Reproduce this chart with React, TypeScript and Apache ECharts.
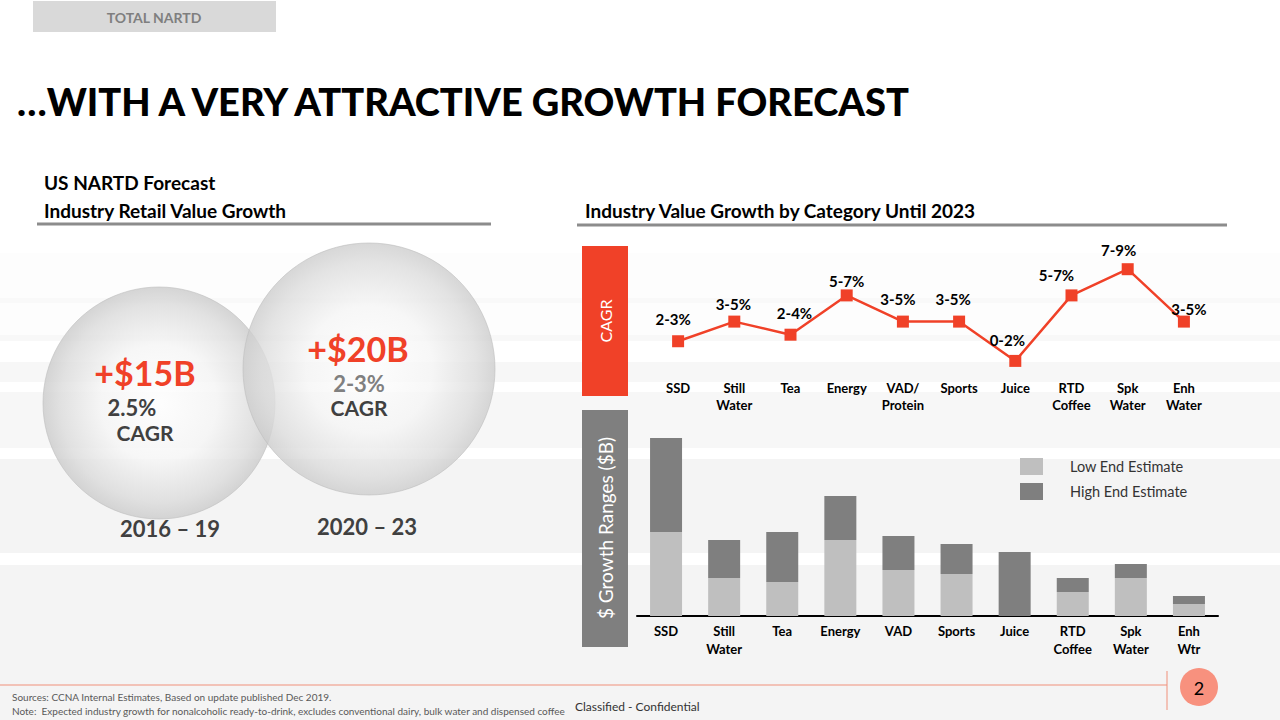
import React, { useEffect, useRef } from 'react';
import * as echarts from 'echarts';

const lineCategories = ['SSD', 'Still\nWater', 'Tea', 'Energy', 'VAD/\nProtein', 'Sports', 'Juice', 'RTD\nCoffee', 'Spk\nWater', 'Enh\nWater'];
const cagrRangeLabels = ['2-3%', '3-5%', '2-4%', '5-7%', '3-5%', '3-5%', '0-2%', '5-7%', '7-9%', '3-5%'];
const cagrValues = [2.5, 4, 3, 6, 4, 4, 1, 6, 8, 4];
const barCategories = ['SSD', 'Still\nWater', 'Tea', 'Energy', 'VAD', 'Sports', 'Juice', 'RTD\nCoffee', 'Spk\nWater', 'Enh\nWtr'];
const lowEndEstimate = [2.1, 0.95, 0.85, 1.9, 1.15, 1.05, 0, 0.6, 0.95, 0.3];
const highEndEstimate = [4.45, 1.9, 2.1, 3.0, 2.0, 1.8, 1.6, 0.95, 1.3, 0.5];
const legendNames = ['Low End Estimate', 'High End Estimate'];

const labelOffsets = [[-5, -22], [-1, -18], [4, -22], [0, -14], [-5, -23], [-6, -23], [-8, -21], [-15, -20], [-9, -19], [5, -13]];

const FONT = "Lato, 'Open Sans', sans-serif";
const RED = '#f04128';

function txt(text: string, x: number, y: number, size: number, color: string, weight = 'bold', align = 'left', extra: any = {}) {
  return {
    type: 'text', x, y, z: 20, ...extra,
    style: { text, fill: color, fontSize: size, fontWeight: weight, fontFamily: FONT, align, verticalAlign: 'middle' },
  };
}

function band(y1: number, y2: number, color: string) {
  return { type: 'rect', z: -10, shape: { x: 0, y: y1, width: 1280, height: y2 - y1 }, style: { fill: color } };
}

export default function App() {
  const ref = useRef<HTMLDivElement>(null);
  useEffect(() => {
    const chart = echarts.init(ref.current!, null, { renderer: 'svg' });
    const bubbleFill = (a: number) => new echarts.graphic.RadialGradient(0.5, 0.5, 0.5, [
      { offset: 0, color: `rgba(255,255,255,${a})` },
      { offset: 0.5, color: `rgba(245,245,245,${a})` },
      { offset: 0.85, color: `rgba(220,220,220,${a})` },
      { offset: 1, color: `rgba(204,204,204,${a})` },
    ]);
    const graphics: any[] = [
      band(253, 298, '#fdfdfd'),
      band(298, 303, '#f9f9f9'),
      band(303, 335, '#fdfdfd'),
      band(335, 341, '#f8f8f8'),
      band(362, 382, '#f7f7f7'),
      band(392, 448, '#f7f7f7'),
      band(459, 553, '#f4f4f4'),
      band(565, 720, '#f4f4f4'),
      { type: 'rect', z: 5, shape: { x: 33, y: 1, width: 243, height: 31 }, style: { fill: '#d9d9d9' } },
      txt('TOTAL NARTD', 154, 17, 14, '#7f7f7f', 'bold', 'center'),
      txt('…WITH A VERY ATTRACTIVE GROWTH FORECAST', 17, 101, 38, '#000000', '900'),
      txt('US NARTD Forecast', 44, 182, 19, '#000000'),
      txt('Industry Retail Value Growth', 44, 210, 19, '#000000'),
      { type: 'line', z: 5, shape: { x1: 37, y1: 224, x2: 491, y2: 224 }, style: { stroke: '#8c8c8c', lineWidth: 3 } },
      txt('Industry Value Growth by Category Until 2023', 585, 210, 19, '#000000'),
      { type: 'line', z: 5, shape: { x1: 577, y1: 225, x2: 1227, y2: 225 }, style: { stroke: '#8c8c8c', lineWidth: 3 } },
      // bubbles
      { type: 'circle', z: 6, shape: { cx: 159, cy: 403, r: 116 }, style: { fill: bubbleFill(0.82), stroke: 'rgba(190,190,190,0.6)', lineWidth: 1 } },
      { type: 'circle', z: 7, shape: { cx: 369, cy: 369, r: 126 }, style: { fill: bubbleFill(0.78), stroke: 'rgba(190,190,190,0.6)', lineWidth: 1 } },
      txt('+$15B', 145, 372, 34, RED, 'bold', 'center'),
      txt('2.5%', 132, 407, 22, '#404040', 'bold', 'center'),
      txt('CAGR', 145, 432, 21, '#404040', 'bold', 'center'),
      txt('+$20B', 358, 348, 34, RED, 'bold', 'center'),
      txt('2-3%', 359, 383, 22, '#808080', 'bold', 'center'),
      txt('CAGR', 359, 407, 21, '#404040', 'bold', 'center'),
      txt('2016 – 19', 170, 528, 22, '#404040', 'bold', 'center'),
      txt('2020 – 23', 367, 526, 22, '#404040', 'bold', 'center'),
      // side boxes
      { type: 'rect', z: 5, shape: { x: 582, y: 246, width: 46, height: 150 }, style: { fill: RED } },
      txt('CAGR', 605, 321, 16, '#ffffff', 'normal', 'center', { rotation: Math.PI / 2 }),
      { type: 'rect', z: 5, shape: { x: 582, y: 410, width: 46, height: 237 }, style: { fill: '#7f7f7f' } },
      txt('$ Growth Ranges ($B)', 605, 528, 19, '#ffffff', 'normal', 'center', { rotation: Math.PI / 2 }),
      // footer
      { type: 'line', z: 5, shape: { x1: 0, y1: 685, x2: 1167, y2: 685 }, style: { stroke: '#f0907a', lineWidth: 1 } },
      { type: 'line', z: 5, shape: { x1: 1167, y1: 671, x2: 1167, y2: 710 }, style: { stroke: '#f0907a', lineWidth: 1 } },
      { type: 'circle', z: 6, shape: { cx: 1199, cy: 687, r: 19 }, style: { fill: '#f8917e' } },
      txt('2', 1199, 688, 18, '#000000', 'normal', 'center'),
      txt('Sources: CCNA Internal Estimates, Based on update published Dec 2019.', 12, 697, 10, '#595959', 'normal'),
      txt('Note:  Expected industry growth for nonalcoholic ready-to-drink, excludes conventional dairy, bulk water and dispensed coffee', 12, 711, 10, '#595959', 'normal'),
      txt('Classified - Confidential', 575, 706, 12, '#333333', 'normal'),
    ];

    const axisLabelStyle = { fontFamily: FONT, fontWeight: 'bold', fontSize: 13, color: '#000000' };

    chart.setOption({
      animation: false,
      backgroundColor: '#ffffff',
      graphic: { elements: graphics },
      legend: {
        data: legendNames,
        orient: 'vertical',
        left: 1020,
        top: 458,
        padding: 0,
        itemWidth: 23,
        itemHeight: 17,
        itemGap: 8,
        icon: 'rect',
        textStyle: { fontFamily: FONT, fontSize: 14.5, color: '#333333', padding: [0, 0, 0, 22] },
      },
      grid: [
        { left: 650, top: 243, width: 562, height: 131 },
        { left: 637, top: 416, width: 581, height: 200 },
      ],
      xAxis: [
        {
          type: 'category', gridIndex: 0, data: lineCategories,
          axisLine: { show: false }, axisTick: { show: false }, splitLine: { show: false },
          axisLabel: { ...axisLabelStyle, margin: 5, lineHeight: 17, interval: 0 },
        },
        {
          type: 'category', gridIndex: 1, data: barCategories,
          axisLine: { show: true, lineStyle: { color: '#000000', width: 2 } }, axisTick: { show: false },
          axisLabel: { ...axisLabelStyle, margin: 6, lineHeight: 18, interval: 0 },
        },
      ],
      yAxis: [
        { type: 'value', gridIndex: 0, min: 0, max: 10, show: false },
        { type: 'value', gridIndex: 1, min: 0, max: 5, show: false },
      ],
      series: [
        {
          type: 'line', xAxisIndex: 0, yAxisIndex: 0,
          data: cagrValues.map((v, i) => ({
            value: v,
            label: { offset: labelOffsets[i] },
          })),
          symbol: 'rect', symbolSize: 12,
          lineStyle: { color: RED, width: 2.5 },
          itemStyle: { color: RED },
          label: {
            show: true, position: 'inside',
            formatter: (p: any) => cagrRangeLabels[p.dataIndex],
            fontFamily: FONT, fontWeight: 'bold', fontSize: 15, color: '#000000',
          },
          z: 10,
        },
        {
          name: legendNames[0], type: 'bar', xAxisIndex: 1, yAxisIndex: 1, stack: 'growth',
          data: lowEndEstimate, barWidth: 32, itemStyle: { color: '#bfbfbf' },
        },
        {
          name: legendNames[1], type: 'bar', xAxisIndex: 1, yAxisIndex: 1, stack: 'growth',
          data: highEndEstimate.map((h, i) => +(h - lowEndEstimate[i]).toFixed(3)), barWidth: 32, itemStyle: { color: '#7f7f7f' },
        },
      ],
    });
    return () => chart.dispose();
  }, []);
  return <div ref={ref} style={{ position: 'fixed', left: 0, top: 0, width: 1280, height: 720 }} />;
}
